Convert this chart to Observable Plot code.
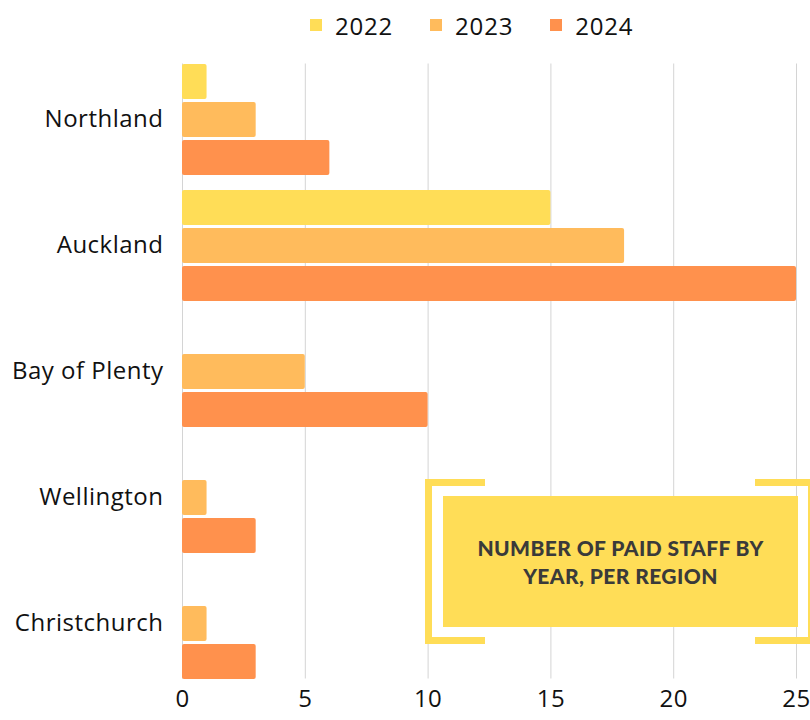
<!DOCTYPE html>
<html>
<head>
<meta charset="utf-8">
<script src="https://cdn.jsdelivr.net/npm/d3@7"></script>
<script src="https://cdn.jsdelivr.net/npm/@observablehq/plot@0.6"></script>
<style>
  html, body { margin: 0; padding: 0; background: #fff; }
  #wrap { position: relative; width: 810px; height: 720px; overflow: hidden; font-family: "Open Sans", sans-serif; }
  #legend { height: 50px; display: flex; align-items: center; padding-left: 310px; box-sizing: border-box; font-size: 24px; letter-spacing: 0.8px; color: #111; }
  .item { display: flex; align-items: center; margin-right: 37px; }
  .sw { width: 12px; height: 12px; margin-right: 13px; }
  .bracket { position: absolute; box-sizing: border-box; border: 0 solid #FFDD57; }
  #titlebox { position: absolute; left: 443px; top: 496px; width: 355px; height: 131px; background: #FFDD57;
    display: flex; align-items: center; justify-content: center; text-align: center;
    font-family: "Lato", sans-serif; font-weight: 900; font-size: 21px; line-height: 28px; letter-spacing: 0.4px; color: #3a3a3a; }
</style>
</head>
<body>
<div id="wrap">
  <div id="legend"></div>
  <div id="chart"></div>
  <div class="bracket" style="left:425px;top:479px;width:60px;height:165px;border-left-width:7px;border-top-width:7px;border-bottom-width:7px;"></div>
  <div class="bracket" style="left:755px;top:479px;width:60px;height:165px;border-right-width:7px;border-top-width:7px;border-bottom-width:7px;"></div>
  <div id="titlebox"><div>NUMBER OF PAID STAFF BY<br>YEAR, PER REGION</div></div>
</div>
<script>
const regions = ["Northland", "Auckland", "Bay of Plenty", "Wellington", "Christchurch"];
const years = ["2022", "2023", "2024"];
const v2022 = [1, 15, 0, 0, 0];
const v2023 = [3, 18, 5, 1, 1];
const v2024 = [6, 25, 10, 3, 3];
const colors = ["#FFDD57", "#FFBB5C", "#FF914D"];
const xTicks = [0, 5, 10, 15, 20, 25];

const series = [v2022, v2023, v2024];
const data = regions.flatMap((r, i) => years.map((y, j) => ({region: r, year: y, value: series[j][i]})));
const grid = regions.flatMap(r => xTicks.map(t => ({region: r, t})));
const first = regions[0], last = regions[regions.length - 1];

const legend = document.getElementById("legend");
years.forEach((y, j) => {
  const it = document.createElement("div");
  it.className = "item";
  it.innerHTML = `<div class="sw" style="background:${colors[j]}"></div><span>${y}</span>`;
  legend.appendChild(it);
});

const gridStyle = {x: "t", fy: "region", stroke: "#d4d4d4", strokeWidth: 1};
const chart = Plot.plot({
  width: 810,
  height: 670,
  marginTop: 6,
  marginBottom: 34,
  marginLeft: 182,
  marginRight: 14,
  style: {fontFamily: "Open Sans, sans-serif", fontSize: "24px", letterSpacing: "0.5px", color: "#111", background: "transparent"},
  x: {domain: [0, 25], ticks: xTicks, tickSize: 0, tickPadding: 3, label: null},
  y: {domain: years, paddingInner: 0.079, paddingOuter: 0.197, axis: null},
  fy: {domain: regions, padding: 0, tickSize: 0, tickPadding: 19, label: null, axis: "left"},
  color: {domain: years, range: colors},
  marks: [
    Plot.ruleX(grid.filter(d => d.region === first), {...gridStyle, insetTop: 7.5}),
    Plot.ruleX(grid.filter(d => d.region !== first && d.region !== last), gridStyle),
    Plot.ruleX(grid.filter(d => d.region === last), {...gridStyle, insetBottom: 7.5}),
    Plot.barX(data.filter(d => d.value > 0), {x: "value", y: "year", fy: "region", fill: "year", rx: 2})
  ]
});
document.getElementById("chart").appendChild(chart);
</script>
</body>
</html>
